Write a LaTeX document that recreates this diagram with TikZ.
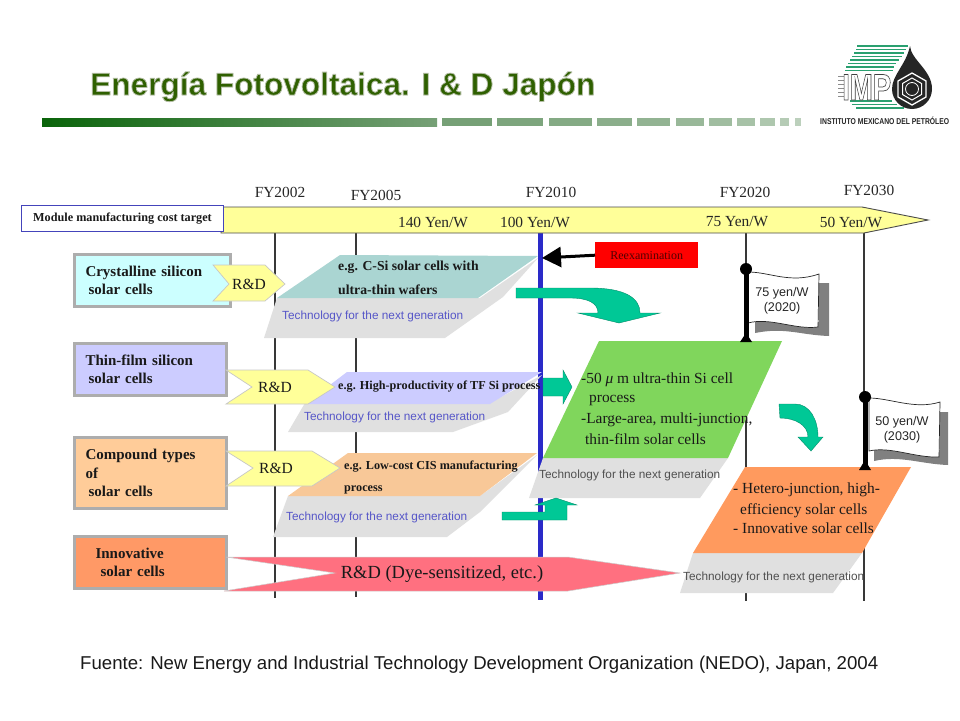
\documentclass[tikz,border=0pt]{standalone}
\usepackage{fontspec}
\usepackage{graphicx}
\setmainfont{Liberation Serif}
\setsansfont{Liberation Sans}
\usetikzlibrary{arrows.meta}
\definecolor{techblue}{HTML}{5656C8}
\definecolor{techgrey}{HTML}{505050}
\definecolor{paragrey}{HTML}{E0E0E0}
\definecolor{arrowgreen}{HTML}{00C896}
\definecolor{ygold}{HTML}{FFFF99}
\definecolor{titlegreen}{HTML}{2F6000}
\definecolor{logogreen}{HTML}{2AA070}
\definecolor{barA}{HTML}{0A640A}
\definecolor{barB}{HTML}{76A076}
\definecolor{blueline}{HTML}{2A2AC8}
\definecolor{labelblue}{HTML}{4444BB}
\definecolor{paraTeal}{HTML}{AAD5D2}
\definecolor{paraLilac}{HTML}{CCCCFF}
\definecolor{paraPeach}{HTML}{F8C898}
\definecolor{paraGreen}{HTML}{80D65C}
\definecolor{paraOrange}{HTML}{FF9A5E}
\definecolor{boxCyan}{HTML}{CCFFFF}
\definecolor{boxLilac}{HTML}{CCCCFF}
\definecolor{boxPeach}{HTML}{FFCC99}
\definecolor{boxOrange}{HTML}{FF9966}
\definecolor{rdRed}{HTML}{FF7080}
\definecolor{reexText}{HTML}{500000}
\newcommand{\fitw}[2]{\resizebox{#1pt}{\height}{#2}}
\tikzset{
  vline/.style={draw=black!78,line width=1.2pt},
  rowbox/.style={draw=black!32,line width=3pt,anchor=north west,inner xsep=11pt,inner ysep=0pt,align=left,font=\fontsize{15}{18.5}\selectfont\bfseries,text=black!90},
  chevron/.style={fill=ygold,draw=black!22,line width=.7pt},
  tech/.style={anchor=base west,inner sep=0pt,font=\fontsize{11.8}{13}\selectfont\sffamily,text=techblue},
  techd/.style={tech,text=techgrey},
  egtext/.style={anchor=base west,inner sep=0pt,font=\fontsize{13.7}{15}\selectfont\bfseries,text=black!90},
  egsmall/.style={egtext,font=\fontsize{12.2}{14}\selectfont\bfseries},
  bodytext/.style={anchor=base west,inner sep=0pt,font=\fontsize{15.4}{20}\selectfont,text=black!90},
  fy/.style={inner sep=0pt,font=\fontsize{15.4}{17}\selectfont,text=black!85},
  rdtext/.style={inner sep=0pt,font=\fontsize{15.5}{18}\selectfont,text=black!90},
  flagtext/.style={inner sep=0pt,align=center,font=\fontsize{12.6}{15}\selectfont\sffamily,text=black!85},
  greenarrow/.style={fill=arrowgreen,draw=arrowgreen!70!black,line width=.4pt},
  flag/.style={fill=white,draw=black!85,line width=.7pt},
  flagshadow/.style={fill=black!50},
  stripe/.style={draw=logogreen,line width=1.5pt}
}
\begin{document}
\begin{tikzpicture}[x=1pt,y=-1pt]
\useasboundingbox (0,0) rectangle (960,720);
\fill[white] (0,0) rectangle (960,720);
% title with a soft outline standing for its blurred shadow
\node[anchor=base west,inner sep=0pt,font=\fontsize{31.6}{34}\selectfont\sffamily\bfseries] (title) at (90,95) {\color{titlegreen}\special{pdf:code 2 Tr 0.70 0.74 0.64 RG 0.8 w}Energía Fotovoltaica. I \& D Japón\special{pdf:code 0 Tr}};
% bar
\shade[left color=barA,right color=barB] (42,118) rectangle (437,126);
\foreach \a/\b/\p in {442/492/0,497/543/6,549/592/12,597/632/18,637/670/24,676/704/30,709/732/36,737/755/42,760/775/48,780/789/54,795/801/60}{
  \fill[barB!\the\numexpr100-\p\relax!white!85!barB] (\a,118) rectangle (\b,126);
}
% logo
\foreach \y/\xa/\xb in {46/857/908,49.5/856/906,53/854/904,56.5/852/902,60/850/899,63.5/848/896,67/846/894,70.5/845/893}{
  \draw[stripe] (\xa,\y) -- (\xb,\y);
}
\foreach \y/\xa/\xb in {101/850/892,104.5/852/897,108/856/904}{
  \draw[stripe] (\xa,\y) -- (\xb,\y);
}
\foreach \y in {76,80,84,88,92,96}{
  \draw[black!45,line width=.8pt] (838,\y) -- (846,\y);
}
\fill[black!85] (910,46) .. controls (911,60) and (932,70) .. (932,89) .. controls (932,100) and (923,109) .. (912,109) .. controls (901,109) and (892,100) .. (892,89) .. controls (892,75) and (906,65) .. (910,46) -- cycle;
\draw[white,line width=1.3pt] (912,73) -- (926,81) -- (926,97) -- (912,105) -- (898,97) -- (898,81) -- cycle;
\draw[white,line width=1pt] (912,78) -- (921.5,83.5) -- (921.5,94.5) -- (912,100) -- (902.5,94.5) -- (902.5,83.5) -- cycle;
\draw[white,line width=.8pt] (912,89) circle (6.5);
\node[anchor=base west,inner sep=0pt,font=\fontsize{37}{37}\selectfont\sffamily\bfseries] (implogo) at (842,100) {\resizebox{49pt}{\height}{\color{white}\special{pdf:code 2 Tr 0.25 0.25 0.25 RG 0.7 w}IMP\special{pdf:code 0 Tr}}};
\node[anchor=base west,inner sep=0pt,font=\fontsize{8.5}{9}\selectfont\sffamily\bfseries,text=black!85] (impname) at (820,124) {\fitw{129}{INSTITUTO MEXICANO DEL PETRÓLEO}};
% vertical lines
\draw[vline] (275,233) -- (275,598);
\draw[vline] (356,233) -- (356,597);
\draw[vline] (746,233) -- (746,601);
\draw[vline] (864,233) -- (864,601);
\draw[blueline,line width=5pt] (540.5,233) -- (540.5,600);
% cost arrow
\draw[fill=ygold,draw=black!70,line width=.9pt] (221,207) -- (862,207) -- (928,220) -- (864,233) -- (221,233) -- cycle;
\node[draw=labelblue,fill=white,line width=1pt,anchor=north west,minimum width=202pt,minimum height=26pt,inner sep=0pt,font=\fontsize{12.2}{13}\selectfont\bfseries,text=black!90] (costlabel) at (21,205) {Module manufacturing cost target};
\node[fy] (fya) at (280,192) {FY2002};
\node[fy] (fyb) at (376,195) {FY2005};
\node[fy] (fyc) at (551,192) {FY2010};
\node[fy] (fyd) at (745,192) {FY2020};
\node[fy] (fye) at (869,190) {FY2030};
\node[fy] (yena) at (433,222) {140 Yen/W};
\node[fy] (yenb) at (535,222) {100 Yen/W};
\node[fy] (yenc) at (737,222) {75 Yen/W};
\node[fy] (yend) at (851,222) {50 Yen/W};
% row 1 grey and coloured
\fill[paragrey] (277,298) -- (480,298) -- (538,258) -- (503,297) -- (445,338) -- (264,338) -- cycle;
\fill[paraTeal] (340,255) -- (538,256) -- (478,298) -- (277,298) -- cycle;
% row 2
\fill[paragrey] (305,403) -- (490,403) -- (542,375) -- (508,412) -- (453,432) -- (288,432) -- cycle;
\fill[paraLilac] (347,372) -- (542,372) -- (490,404) -- (305,404) -- cycle;
% row 3
\fill[paragrey] (288,496) -- (480,496) -- (537,455) -- (480,512) -- (447,537) -- (273,537) -- cycle;
\fill[paraPeach] (348,453) -- (537,453) -- (480,496) -- (288,496) -- cycle;
% row boxes
\node[rowbox,fill=boxCyan,minimum width=156pt,minimum height=52pt,text width=134pt] (rowa) at (73,253) {Crystalline silicon\\\hspace*{3pt}solar cells};
\node[rowbox,fill=boxLilac,minimum width=152pt,minimum height=52pt,text width=130pt] (rowb) at (73,342) {Thin-film silicon\\\hspace*{3pt}solar cells};
\node[rowbox,fill=boxPeach,minimum width=152pt,minimum height=71pt,text width=130pt] (rowc) at (73,436) {Compound types\\of\\\hspace*{3pt}solar cells};
\node[rowbox,fill=boxOrange,minimum width=152pt,minimum height=52pt,text width=130pt] (rowd) at (73,535) {\hspace*{10pt}Innovative\\\hspace*{15pt}solar cells};
% chevrons
\draw[chevron] (213,265) -- (265,265) -- (285,284) -- (265,301) -- (213,301) -- (229,284) -- cycle;
\node[rdtext] (rda) at (249,284) {R\&D};
\draw[chevron] (226,370) -- (308,370) -- (335,387) -- (308,404) -- (226,404) -- (252,387) -- cycle;
\node[rdtext] (rdb) at (275,387) {R\&D};
\draw[chevron] (226,451) -- (312,451) -- (340,468) -- (312,486) -- (226,486) -- (253,468) -- cycle;
\node[rdtext] (rdc) at (276,468) {R\&D};
\draw[fill=rdRed,draw=black!20,line width=.5pt] (226,557) -- (568,557) -- (680,573) -- (568,591) -- (224,591) -- (335,573) -- cycle;
\node[inner sep=0pt,font=\fontsize{18.5}{20}\selectfont,text=black!90] (rdd) at (442,574) {R\&D (Dye-sensitized, etc.)};
% row texts
\node[egtext] (ega) at (338,270) {e.g. C-Si solar cells with};
\node[egtext] (egb) at (338,294) {ultra-thin wafers};
\node[tech] (techa) at (282,319) {Technology for the next generation};
\node[egsmall] (egc) at (338,389) {e.g. High-productivity of TF Si process};
\node[tech] (techb) at (304,420) {Technology for the next generation};
\node[egsmall] (egd) at (344,469) {e.g. Low-cost CIS manufacturing};
\node[egsmall] (ege) at (344,491) {process};
\node[tech] (techc) at (286,520) {Technology for the next generation};
% green parallelogram
\fill[paragrey] (543,458) -- (728,458) -- (700,498) -- (529,498) -- cycle;
\fill[paraGreen] (599,341) -- (782,341) -- (728,458) -- (543,458) -- cycle;
\node[bodytext] (bodya) at (581,383) {-50 {\itshape μ} m ultra-thin Si cell};
\node[bodytext] (bodyb) at (589,402) {process};
\node[bodytext] (bodyc) at (581,423) {-Large-area, multi-junction,};
\node[bodytext] (bodyd) at (585,444) {thin-film solar cells};
\node[techd] (techd) at (539,478) {Technology for the next generation};
% orange parallelogram
\fill[paragrey] (693,553) -- (862,553) -- (833,593) -- (680,593) -- cycle;
\fill[paraOrange] (745,467) -- (911,467) -- (862,553) -- (693,553) -- cycle;
\node[bodytext] (bodye) at (733,493) {- Hetero-junction, high-};
\node[bodytext] (bodyf) at (740,514) {efficiency solar cells};
\node[bodytext] (bodyg) at (733,533) {- Innovative solar cells};
\node[techd] (teche) at (683,580) {Technology for the next generation};
% reexamination
\node[fill=red,anchor=north west,minimum width=103pt,minimum height=26pt,inner sep=0pt,font=\fontsize{12}{13}\selectfont,text=reexText] (reex) at (595,242) {Reexamination};
\coordinate (reextip) at (542,258);
\draw[line width=3pt,-{Triangle[length=19pt,width=20pt]}] (reex.west) -- (reextip);
% green arrows
\draw[greenarrow] (516,288) -- (590,288) .. controls (625,288) and (640,298) .. (640,313) -- (660,313) -- (619,323) -- (578,313) -- (598,313) .. controls (598,303) and (588,298) .. (570,298) -- (516,298) -- cycle;
\draw[greenarrow] (543,378) -- (563,378) -- (563,370) -- (572,387) -- (563,404) -- (563,396) -- (543,396) -- cycle;
\draw[greenarrow] (502,512) -- (545,512) -- (545,505) -- (535,505) -- (556,498) -- (577,505) -- (567,505) -- (567,520) -- (502,520) -- cycle;
\draw[greenarrow] (779,404) -- (795,404) .. controls (810,404) and (818,420) .. (818,437) -- (823,437) -- (811,451) -- (798,437) -- (808,437) .. controls (808,425) and (795,418) .. (780,418) -- cycle;
% flags
\fill[flagshadow] (755,333) -- (755,322) -- (819,322) -- (819,283) -- (829,283) -- (829,336) .. controls (800,335) and (785,327) .. (755,333) -- cycle;
\draw[flag] (748,272) .. controls (770,272) and (790,284) .. (819,274) -- (818,327) .. controls (795,330) and (770,317) .. (748,323) -- cycle;
\node[flagtext] (flaga) at (782,301) {75 yen/W\\(2020)};
\fill[black] (746,269) circle (6);
\fill[black] (743.5,269) rectangle (748.5,338);
\fill[black] (746,333) -- (752,342) -- (740,342) -- cycle;
\fill[flagshadow] (874,461) -- (874,450) -- (940,450) -- (940,412) -- (948,412) -- (948,465) .. controls (920,464) and (900,455) .. (874,461) -- cycle;
\draw[flag] (869,398) .. controls (890,398) and (915,410) .. (940,402) -- (939,457) .. controls (915,458) and (890,446) .. (869,451) -- cycle;
\node[flagtext] (flagb) at (902,430) {50 yen/W\\(2030)};
\fill[black] (865,397) circle (6);
\fill[black] (862.5,397) rectangle (867.5,465);
\fill[black] (865,460) -- (871,470) -- (859,470) -- cycle;
% footer
\node[anchor=base west,inner sep=0pt,font=\fontsize{18.6}{20}\selectfont\sffamily,text=black!90] (footer) at (80,669) {\fitw{798}{Fuente: New Energy and Industrial Technology Development Organization (NEDO), Japan, 2004}};
\end{tikzpicture}
\end{document}
